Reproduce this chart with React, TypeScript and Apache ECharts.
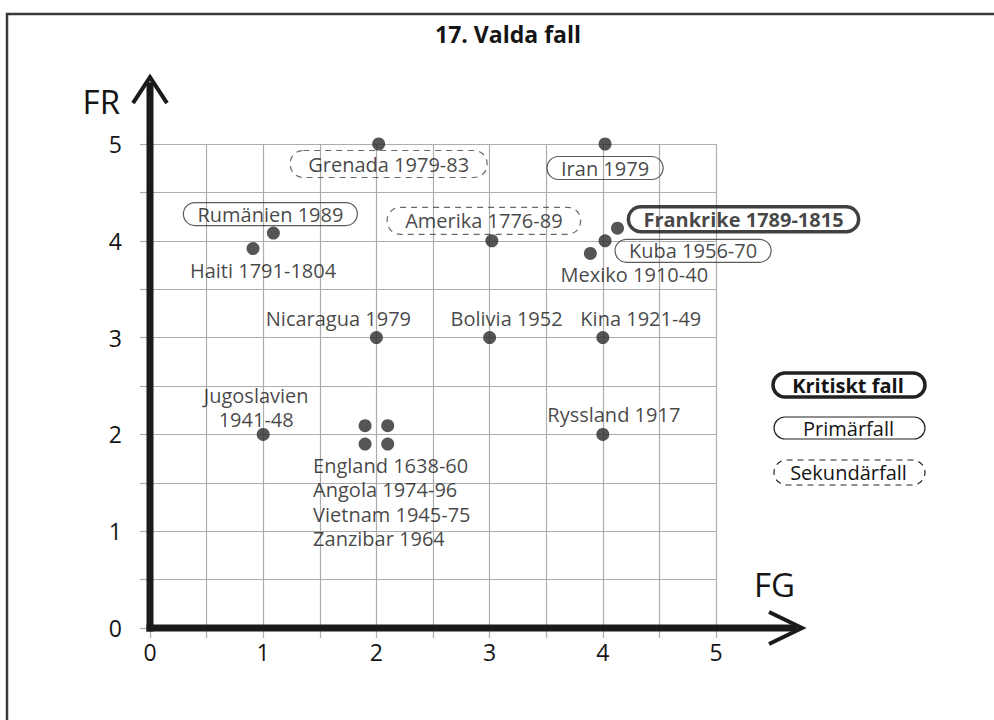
import React, { useEffect, useRef } from 'react';
import * as echarts from 'echarts';

// ---------- data ----------
const titleText = '17. Valda fall';
const xAxisName = 'FG';
const yAxisName = 'FR';
const tickValues = [0, 1, 2, 3, 4, 5];

const caseNames = [
  'Grenada 1979-83',
  'Iran 1979',
  'Rumänien 1989',
  'Haiti 1791-1804',
  'Amerika 1776-89',
  'Frankrike 1789-1815',
  'Kuba 1956-70',
  'Mexiko 1910-40',
  'Nicaragua 1979',
  'Bolivia 1952',
  'Kina 1921-49',
  'Ryssland 1917',
  'Jugoslavien 1941-48',
  'England 1638-60',
  'Angola 1974-96',
  'Vietnam 1945-75',
  'Zanzibar 1964',
];
const fgValues = [2.02, 4.02, 1.09, 0.91, 3.02, 4.13, 4.02, 3.89, 2, 3, 4, 4, 1, 1.9, 2.1, 1.9, 2.1];
const frValues = [5, 5, 4.08, 3.92, 4.0, 4.13, 4.0, 3.87, 3, 3, 3, 2, 2, 2.09, 2.09, 1.9, 1.9];
const caseTypes = [
  'sekundär', 'primär', 'primär', '', 'sekundär', 'kritiskt', 'primär', '',
  '', '', '', '', '', '', '', '', '',
];
const clusterNames = ['England 1638-60', 'Angola 1974-96', 'Vietnam 1945-75', 'Zanzibar 1964'];

const legendLabels = ['Kritiskt fall', 'Primärfall', 'Sekundärfall'];
const legendTypes = ['kritiskt', 'primär', 'sekundär'];

// ---------- layout / style (not data) ----------
const FONT = '"Open Sans", "Noto Sans", sans-serif';
const TEXT = '#151515';
const GRIDC = '#adadad';

type Placement = { offset: [number, number]; text?: string; align?: 'left' | 'center' | 'right'; hidden?: boolean };
const labelPlacement: Record<string, Placement> = {
  'Grenada 1979-83': { offset: [10, 20] },
  'Iran 1979': { offset: [0, 24] },
  'Rumänien 1989': { offset: [-3, -19] },
  'Haiti 1791-1804': { offset: [10, 22] },
  'Amerika 1776-89': { offset: [-8, -20] },
  'Frankrike 1789-1815': { offset: [126, -9] },
  'Kuba 1956-70': { offset: [88, 10] },
  'Mexiko 1910-40': { offset: [44, 21] },
  'Nicaragua 1979': { offset: [-38, -19] },
  'Bolivia 1952': { offset: [17, -19] },
  'Kina 1921-49': { offset: [38, -19] },
  'Ryssland 1917': { offset: [11, -20] },
  'Jugoslavien 1941-48': { offset: [-7, -27], text: 'Jugoslavien\n1941-48' },
  'England 1638-60': { offset: [0, 0], hidden: true },
  'Angola 1974-96': { offset: [0, 0], hidden: true },
  'Vietnam 1945-75': { offset: [-52, 58], align: 'left', text: clusterNames.join('\n') },
  'Zanzibar 1964': { offset: [0, 0], hidden: true },
};

const boxStyles: Record<string, any> = {
  kritiskt: { fontWeight: 'bold', borderColor: '#111', borderWidth: 3.5, borderRadius: 13, padding: [2, 15, 1, 15] },
  primär: { borderColor: '#333', borderWidth: 1.2, borderRadius: 12, padding: [1, 14, 0, 14] },
  sekundär: { borderColor: '#444', borderWidth: 1.2, borderType: [6, 5], borderRadius: 13, padding: [3, 18, 2, 18] },
  '': {},
};

const legendBoxes = [
  { x: 773, y: 373, w: 152, h: 24, lw: 3.5, dash: null as any, bold: true },
  { x: 774, y: 417, w: 151, h: 22, lw: 1.2, dash: null as any, bold: false },
  { x: 774, y: 460, w: 151, h: 25, lw: 1.2, dash: [6, 5], bold: false },
];

export default function App() {
  const ref = useRef<HTMLDivElement>(null);

  useEffect(() => {
    if (!ref.current) return;
    const chart = echarts.init(ref.current, undefined, { renderer: 'svg' });

    const scatterData = caseNames.map((name, i) => {
      const p = labelPlacement[name];
      const type = caseTypes[i];
      return {
        name,
        value: [fgValues[i], frValues[i]],
        label: {
          show: !p.hidden,
          position: 'inside',
          offset: p.offset,
          align: p.align || 'center',
          verticalAlign: 'middle',
          formatter: p.text || name,
          fontFamily: FONT,
          fontSize: 20,
          lineHeight: p.text ? 24.5 : 22,
          color: TEXT,
          ...boxStyles[type],
        },
      };
    });

    const legendGraphics = legendLabels.map((t, i) => {
      const b = legendBoxes[i];
      return {
        type: 'group',
        children: [
          {
            type: 'rect',
            shape: { x: b.x, y: b.y, width: b.w, height: b.h, r: b.h / 2 },
            style: { fill: 'none', stroke: '#222', lineWidth: b.lw, lineDash: b.dash },
          },
          {
            type: 'text',
            x: b.x + b.w / 2 - 1,
            y: b.y + b.h / 2,
            style: {
              text: t,
              fill: TEXT,
              font: `${b.bold ? 'bold ' : ''}20px ${FONT}`,
              align: 'center',
              verticalAlign: 'middle',
            },
          },
        ],
      };
    });

    chart.setOption({
      animation: false,
      backgroundColor: '#fff',
      title: {
        text: titleText,
        left: 503,
        top: 17,
        textAlign: 'center',
        textStyle: { fontFamily: FONT, fontWeight: 'bold', fontSize: 23, color: TEXT },
      },
      grid: { left: 150, top: 144, right: 278, bottom: 92, containLabel: false },
      xAxis: {
        type: 'value',
        min: 0,
        max: 5,
        interval: 0.5,
        name: xAxisName,
        nameLocation: 'end',
        nameGap: 38,
        nameTextStyle: {
          fontFamily: FONT, fontSize: 33, color: TEXT,
          align: 'left', verticalAlign: 'bottom', lineHeight: 88,
        },
        axisLine: { show: false },
        axisTick: { show: true, length: 10, lineStyle: { color: GRIDC, width: 1.2 } },
        splitLine: { show: true, lineStyle: { color: GRIDC, width: 1.2 } },
        axisLabel: {
          margin: 12,
          fontFamily: FONT,
          fontSize: 23,
          color: TEXT,
          formatter: (v: number) => (tickValues.includes(v) ? String(v) : ''),
        },
      },
      yAxis: {
        type: 'value',
        min: 0,
        max: 5,
        interval: 0.5,
        name: yAxisName,
        nameLocation: 'end',
        nameGap: 43,
        nameTextStyle: {
          fontFamily: FONT, fontSize: 33, color: TEXT,
          align: 'right', verticalAlign: 'middle', padding: [0, 30, 0, 0],
        },
        axisLine: { show: false },
        axisTick: { show: true, length: 10, lineStyle: { color: GRIDC, width: 1.2 } },
        splitLine: { show: true, lineStyle: { color: GRIDC, width: 1.2 } },
        axisLabel: {
          margin: 28,
          fontFamily: FONT,
          fontSize: 23,
          color: TEXT,
          formatter: (v: number) => (tickValues.includes(v) ? String(v) : ''),
        },
      },
      graphic: [
        {
          type: 'rect',
          shape: { x: 7, y: 14, width: 1000, height: 720 },
          style: { fill: 'none', stroke: '#3a3a3a', lineWidth: 2.5 },
          silent: true,
        },
        ...legendGraphics,
      ],
      series: [
        {
          type: 'custom',
          silent: true,
          clip: false,
          z: 3,
          data: [[5.76, 5.69]],
          encode: { x: 0, y: 1 },
          renderItem: (_params: any, api: any) => {
            const o = api.coord([0, 0]);
            const xt = api.coord([api.value(0), 0]);
            const yt = api.coord([0, api.value(1)]);
            const thick = { stroke: '#1a1a1a', lineWidth: 7, fill: 'none' };
            const thin = { stroke: '#1a1a1a', lineWidth: 4, fill: 'none', lineJoin: 'miter' };
            return {
              type: 'group',
              children: [
                { type: 'line', shape: { x1: o[0], y1: o[1] + 3.5, x2: o[0], y2: yt[1] + 5 }, style: thick },
                { type: 'line', shape: { x1: o[0] - 3.5, y1: o[1], x2: xt[0] - 5, y2: o[1] }, style: thick },
                {
                  type: 'polyline',
                  shape: { points: [[yt[0] - 17, yt[1] + 26], [yt[0], yt[1]], [yt[0] + 17, yt[1] + 26]] },
                  style: thin,
                },
                {
                  type: 'polyline',
                  shape: { points: [[xt[0] - 33, xt[1] - 16], [xt[0], xt[1]], [xt[0] - 33, xt[1] + 16]] },
                  style: thin,
                },
              ],
            };
          },
        },
        {
          type: 'scatter',
          name: 'Fall',
          symbol: 'circle',
          symbolSize: 13,
          z: 4,
          itemStyle: { color: '#2b2b2b' },
          data: scatterData,
        },
      ],
    });

    return () => chart.dispose();
  }, []);

  return (
    <div
      ref={ref}
      style={{ position: 'absolute', left: 0, top: 0, width: 994, height: 720 }}
    />
  );
}
